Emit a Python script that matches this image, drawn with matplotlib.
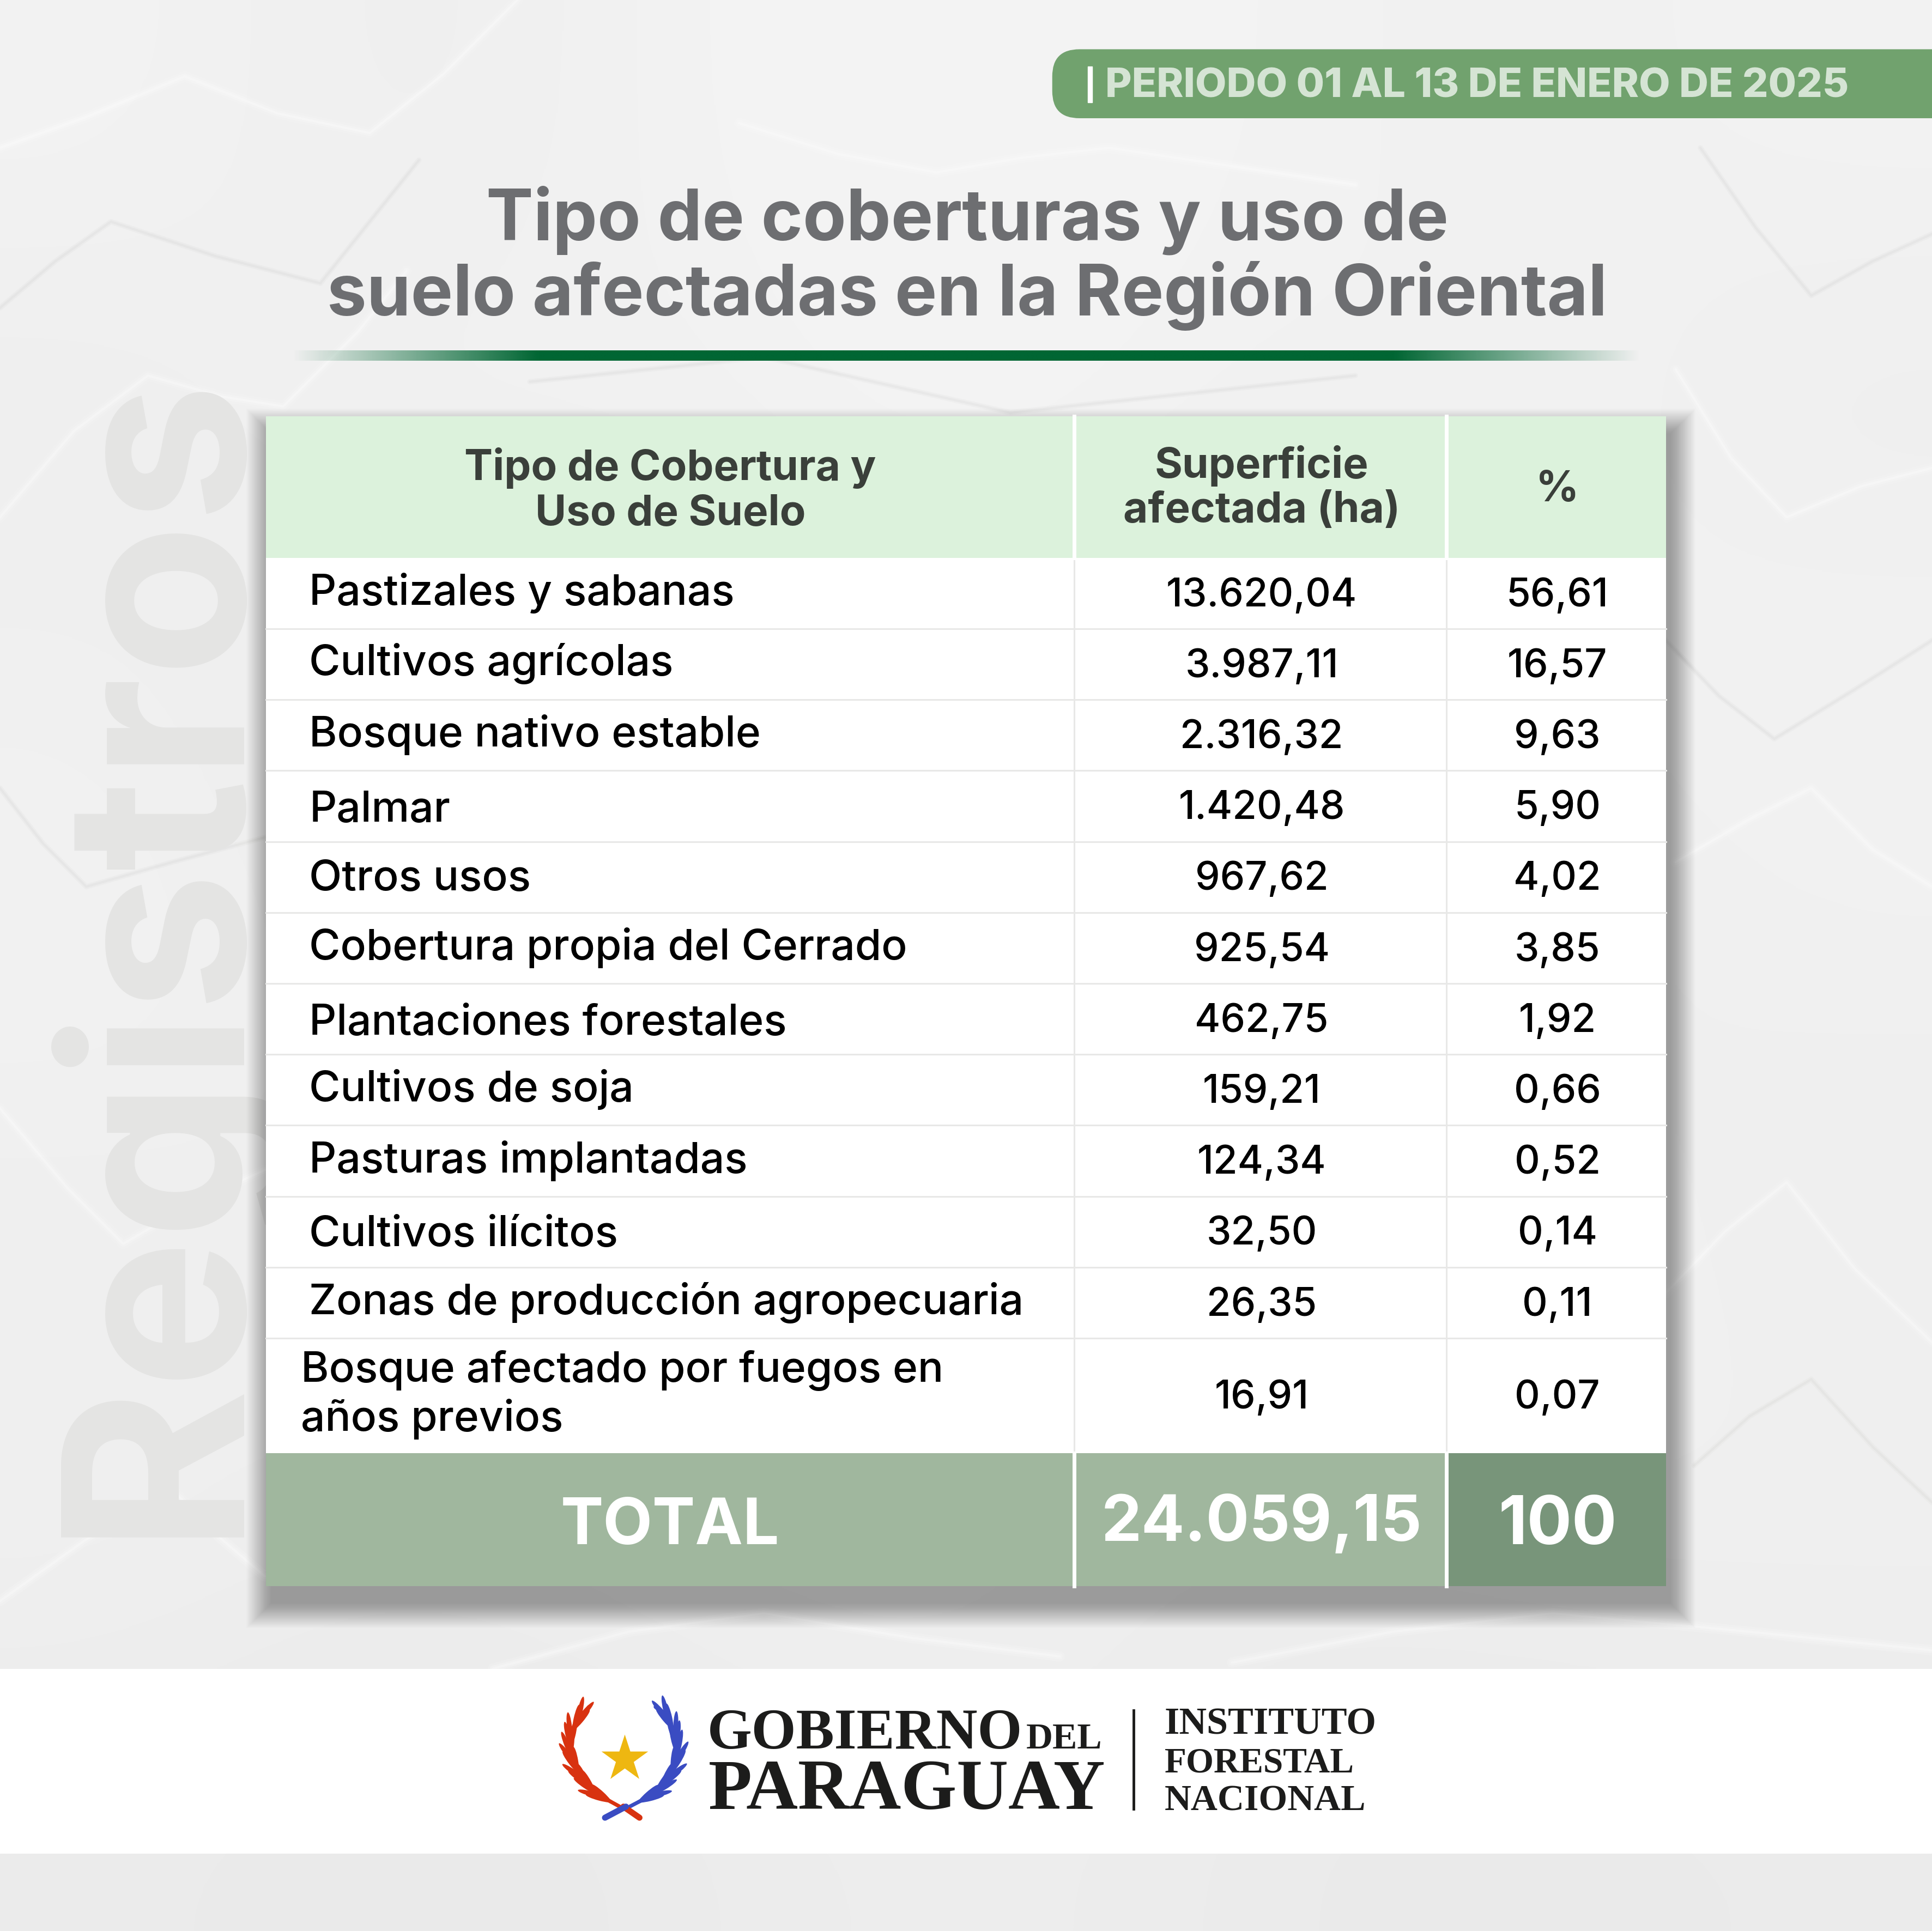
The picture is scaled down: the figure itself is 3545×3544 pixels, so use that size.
import numpy as np
import matplotlib
matplotlib.use("Agg")
import matplotlib.pyplot as plt
from matplotlib.patches import Rectangle, FancyBboxPatch, Ellipse

plt.rcParams["font.family"] = ["Inter", "DejaVu Sans"]

LABELS = [
    "Pastizales y sabanas", "Cultivos agrícolas", "Bosque nativo estable", "Palmar",
    "Otros usos", "Cobertura propia del Cerrado", "Plantaciones forestales",
    "Cultivos de soja", "Pasturas implantadas", "Cultivos ilícitos",
    "Zonas de producción agropecuaria",
]
LAST_LABEL = ["Bosque afectado por fuegos en", "años previos"]
AREA = [13620.04, 3987.11, 2316.32, 1420.48, 967.62, 925.54, 462.75, 159.21, 124.34, 32.50, 26.35, 16.91]
PERCENT = [56.61, 16.57, 9.63, 5.90, 4.02, 3.85, 1.92, 0.66, 0.52, 0.14, 0.11, 0.07]
TOTAL_AREA = 24059.15
TOTAL_PERCENT = 100

# paper tone, coarse grid
PAPER = [
    [0.95, 0.93, 0.95, 0.96, 0.95, 0.94, 0.95],
    [0.93, 0.95, 0.94, 0.96, 0.94, 0.95, 0.93],
    [0.94, 0.92, 0.93, 0.93, 0.93, 0.94, 0.95],
    [0.95, 0.93, 0.93, 0.93, 0.93, 0.93, 0.94],
    [0.93, 0.94, 0.93, 0.93, 0.93, 0.95, 0.93],
    [0.94, 0.93, 0.94, 0.94, 0.93, 0.94, 0.94],
    [0.92, 0.91, 0.92, 0.93, 0.92, 0.91, 0.92],
]

# layout, in units of a 1568 wide picture
LABEL_BASE = [491, 548, 606, 667, 723, 779, 840, 894, 952, 1012, 1067]
COL_X = [216, 872, 1174, 1352]
ROW_H = 57.6
HEAD_TOP, HEAD_BOT, LAST_BOT, TABLE_BOT = 338, 453, 1180, 1288
UNIT_PT = 3545 / 1568 * 72 / 100


def fs(em):
    return em * UNIT_PT


def fmt_es(value):
    return f"{value:,.2f}".replace(",", "#").replace(".", ",").replace("#", ".")


def draw_background(ax):
    ax.imshow(np.array(PAPER), cmap="gray", vmin=0, vmax=1, extent=(0, 1568, 1568, 0),
              aspect="auto", interpolation="bicubic", zorder=0)
    light = [
        [(0, 120), (70, 95), (150, 62), (225, 92), (300, 108), (360, 60), (420, 0)],
        [(0, 420), (60, 350), (120, 305), (180, 322), (230, 330), (290, 270), (330, 220)],
        [(1360, 300), (1405, 372), (1450, 420), (1510, 395), (1568, 380)],
        [(1360, 700), (1420, 665), (1470, 640), (1520, 690), (1568, 720)],
        [(0, 900), (55, 965), (100, 1010), (160, 975), (215, 950)],
        [(1352, 1050), (1400, 1000), (1450, 960), (1505, 1030), (1568, 1090)],
        [(600, 100), (680, 125), (760, 140), (830, 128), (900, 120), (1100, 150)],
        [(0, 1300), (70, 1250), (140, 1210), (180, 1250), (215, 1280)],
        [(400, 1355), (510, 1325), (620, 1310), (740, 1330), (860, 1345)],
        [(1000, 1350), (1130, 1325), (1260, 1310), (1420, 1325), (1568, 1340)],
    ]
    dark = [
        [(0, 250), (45, 212), (90, 180), (175, 208), (260, 230), (300, 180), (340, 130)],
        [(1380, 120), (1425, 185), (1470, 240), (1520, 212), (1568, 190)],
        [(1352, 520), (1395, 565), (1440, 600), (1505, 560), (1568, 520)],
        [(0, 640), (35, 685), (70, 720), (140, 700), (215, 680)],
        [(1375, 1190), (1420, 1150), (1470, 1120), (1520, 1175), (1568, 1220)],
        [(430, 310), (620, 290), (820, 335), (1100, 305)],
    ]
    for pts in light:
        x, y = zip(*pts)
        for lw, alpha in ((14, 0.12), (8, 0.18), (3, 0.25)):
            ax.plot(x, y, color="white", lw=lw, alpha=alpha, zorder=1, solid_capstyle="round")
    for pts in dark:
        x, y = zip(*pts)
        for lw, alpha in ((7, 0.12), (3, 0.18)):
            ax.plot(x, y, color="#cfcfce", lw=lw, alpha=alpha, zorder=1, solid_capstyle="round")
    ax.text(185, 1248, "Registros", rotation=90, rotation_mode="anchor", ha="left", va="baseline",
            fontsize=fs(204), fontweight="bold", color="#e4e4e3", zorder=2)


def draw_header(ax):
    pill = FancyBboxPatch((854, 40), 760, 56, boxstyle="round,pad=0,rounding_size=22",
                          facecolor="#71a26e", edgecolor="none", zorder=3)
    ax.add_patch(pill)
    ax.add_patch(Rectangle((883, 54), 3.5, 29, color="white", zorder=4))
    ax.text(897, 79, "PERIODO 01 AL 13 DE ENERO DE 2025", ha="left", va="baseline",
            fontsize=fs(33), fontweight="heavy", color="#d5e4d4", zorder=4)
    ax.text(785, 195, "Tipo de coberturas y uso de", ha="center", va="baseline",
            fontsize=fs(57.5), fontweight="bold", color="#6d6e71", zorder=4)
    ax.text(785, 256, "suelo afectadas en la Región Oriental", ha="center", va="baseline",
            fontsize=fs(57.5), fontweight="bold", color="#6d6e71", zorder=4)
    # rule that fades out at both ends
    fade = np.clip(np.minimum(np.linspace(0, 1, 400), np.linspace(1, 0, 400)) * 5.5, 0, 1)
    rgba = np.zeros((1, 400, 4))
    rgba[..., 0], rgba[..., 1], rgba[..., 2] = 0 / 255, 102 / 255, 51 / 255
    rgba[0, :, 3] = fade
    ax.imshow(rgba, extent=(236, 1332, 293, 285), aspect="auto", zorder=4, interpolation="bilinear")


def draw_table(ax):
    x0, x1, x2, x3 = COL_X
    # soft shadow, stacked from wide to tight
    for grow in np.linspace(20, 0, 30):
        ax.add_patch(Rectangle((x0 + 4 - grow, HEAD_TOP + 14 - grow), x3 - x0 + 2 * grow,
                               TABLE_BOT - HEAD_TOP + 2 * grow,
                               color="black", alpha=0.011, lw=0, zorder=3))
    ax.add_patch(Rectangle((x0, HEAD_BOT), x3 - x0, LAST_BOT - HEAD_BOT, color="white", lw=0, zorder=4))
    ax.add_patch(Rectangle((x0, HEAD_TOP), x3 - x0, HEAD_BOT - HEAD_TOP, color="#dcf2dc", lw=0, zorder=4))
    ax.add_patch(Rectangle((x0, LAST_BOT), x2 - x0, TABLE_BOT - LAST_BOT, color="#a0b79e", lw=0, zorder=4))
    ax.add_patch(Rectangle((x2, LAST_BOT), x3 - x2, TABLE_BOT - LAST_BOT, color="#78957a", lw=0, zorder=4))

    n_rows = len(AREA)
    for i in range(1, n_rows):
        y = HEAD_BOT + i * ROW_H
        ax.plot([x0, x3], [y, y], color="#e8e8e7", lw=2.2, zorder=5)
    for x in (x1, x2):
        ax.plot([x, x], [HEAD_BOT, LAST_BOT], color="#e8e8e7", lw=2.2, zorder=5)
        ax.plot([x, x], [HEAD_TOP, HEAD_BOT], color="white", lw=5, zorder=5)
        ax.plot([x, x], [LAST_BOT, TABLE_BOT], color="white", lw=5, zorder=5)

    head_kw = dict(ha="center", va="baseline", fontsize=fs(34.5), fontweight="bold", color="#3a3f3a", zorder=6)
    ax.text(544, 390, "Tipo de Cobertura y", **head_kw)
    ax.text(544, 426, "Uso de Suelo", **head_kw)
    ax.text(1024, 388, "Superficie", **head_kw)
    ax.text(1024, 424, "afectada (ha)", **head_kw)
    ax.text(1264, 407, "%", **head_kw)

    body_kw = dict(va="baseline", fontweight="medium", color="black", zorder=6)
    for label, base in zip(LABELS, LABEL_BASE):
        ax.text(251, base, label, ha="left", fontsize=fs(34.7), **body_kw)
    ax.text(244, 1122, LAST_LABEL[0], ha="left", fontsize=fs(34.7), **body_kw)
    ax.text(244, 1162, LAST_LABEL[1], ha="left", fontsize=fs(34.7), **body_kw)

    for i, (area, pct) in enumerate(zip(AREA, PERCENT)):
        if i < n_rows - 1:
            mid = HEAD_BOT + (i + 0.5) * ROW_H
        else:
            mid = (HEAD_BOT + i * ROW_H + LAST_BOT) / 2
        ax.text(1024, mid + 10.5, fmt_es(area), ha="center", fontsize=fs(32), **body_kw)
        ax.text(1264, mid + 10.5, f"{pct:.2f}".replace(".", ","), ha="center", fontsize=fs(32), **body_kw)

    total_kw = dict(ha="center", va="baseline", fontweight="bold", color="white", zorder=6)
    ax.text(544, 1254, "TOTAL", fontsize=fs(52), **total_kw)
    ax.text(1024, 1251, fmt_es(TOTAL_AREA), fontsize=fs(52), **total_kw)
    ax.text(1264, 1254, str(TOTAL_PERCENT), fontsize=fs(54), **total_kw)


def draw_branch(ax, xs, ys, color):
    # leaves set along a stem, both sides
    ax.plot(xs, ys, color=color, lw=5, zorder=7, solid_capstyle="round")
    dist = np.r_[0, np.cumsum(np.hypot(np.diff(xs), np.diff(ys)))]
    for s in np.linspace(10, dist[-1] - 14, 12):
        px, py = np.interp(s, dist, xs), np.interp(s, dist, ys)
        dx = np.interp(s + 2, dist, xs) - np.interp(s - 2, dist, xs)
        dy = np.interp(s + 2, dist, ys) - np.interp(s - 2, dist, ys)
        base = np.degrees(np.arctan2(dy, dx))
        for side in (-1, 1):
            ang = base + side * 14
            lx = px + 8 * np.cos(np.radians(ang))
            ly = py + 8 * np.sin(np.radians(ang))
            ax.add_patch(Ellipse((lx, ly), 23, 4, angle=ang, color=color, lw=0, zorder=7))


def draw_footer(ax):
    ax.add_patch(Rectangle((0, 1355), 1568, 150, color="white", lw=0, zorder=3))
    red_x = [503, 483, 470, 463, 463, 470, 478]
    red_y = [1467, 1456, 1441, 1425, 1409, 1395, 1386]
    blue_x = [511, 532, 545, 550, 548, 541, 532]
    blue_y = [1467, 1456, 1440, 1425, 1408, 1394, 1386]
    draw_branch(ax, red_x, red_y, "#d83210")
    draw_branch(ax, blue_x, blue_y, "#3a4cc2")
    ax.plot([506, 519], [1467, 1476], color="#d83210", lw=8, zorder=7, solid_capstyle="round")
    ax.plot([508, 491], [1467, 1476], color="#3a4cc2", lw=8, zorder=7, solid_capstyle="round")
    ax.scatter([507], [1428], marker="*", s=4200, color="#eeb711", lw=0, zorder=8)

    serif = dict(family=["Liberation Serif"], fontweight="bold", color="#1c1c1b", va="baseline", ha="left", zorder=8)
    ax.text(574, 1420, "GOBIERNO", fontsize=fs(46.5), **serif)
    ax.text(833, 1420, "DEL", fontsize=fs(30), **serif)
    ax.text(575, 1469, "PARAGUAY", fontsize=fs(58), **serif)
    ax.plot([920, 920], [1389, 1469], color="#1c1c1b", lw=3.5, zorder=8)
    ax.text(945, 1408, "INSTITUTO", fontsize=fs(31), **serif)
    ax.text(945, 1439, "FORESTAL", fontsize=fs(29), **serif)
    ax.text(945, 1470, "NACIONAL", fontsize=fs(30), **serif)


fig = plt.figure(figsize=(35.45, 35.44), dpi=100)
ax = fig.add_axes([0, 0, 1, 1])
draw_background(ax)
draw_header(ax)
draw_table(ax)
draw_footer(ax)
ax.set_xlim(0, 1568)
ax.set_ylim(1568, 0)
ax.axis("off")
fig.savefig("out.png", dpi=100)
